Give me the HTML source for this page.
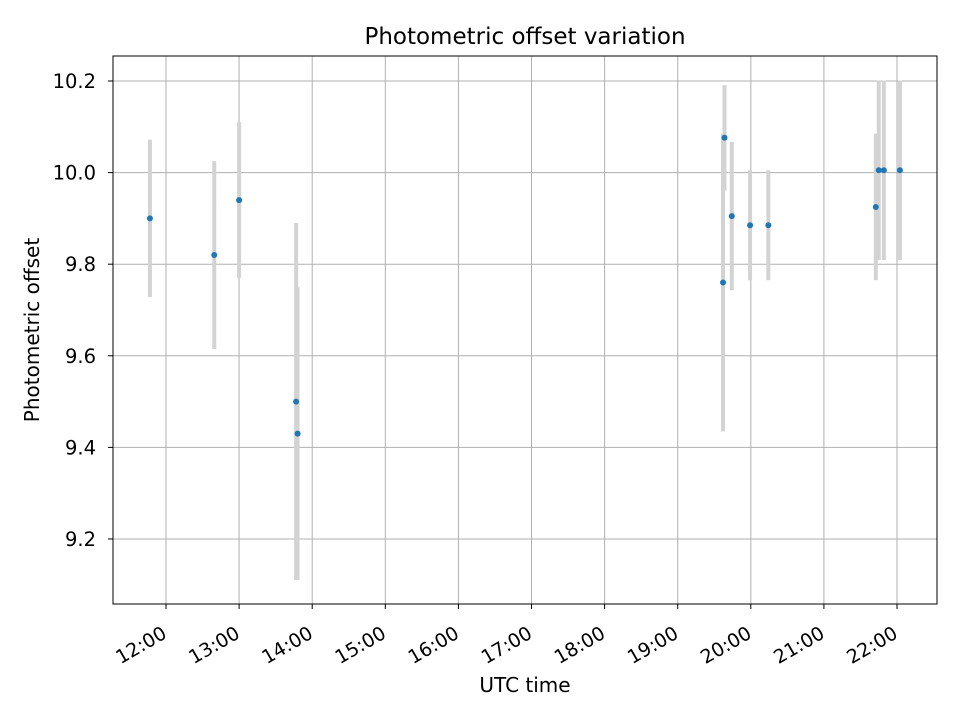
<!DOCTYPE html>
<html><head><meta charset="utf-8"><style>
body{margin:0;background:#fff;}
svg text{font-family:"DejaVu Sans","Liberation Sans",sans-serif;fill:#000;}
</style></head><body>
<svg id="chart" width="960" height="720">
<rect width="960" height="720" fill="#fff"/>
<g id="grid"></g>
<g id="errs"></g>
<g id="pts"></g>
<rect x="113" y="56" width="824" height="548" fill="none" stroke="#000" stroke-width="1"/>
<g id="xt"></g><g id="yt"></g>
<text x="525" y="44" font-size="23" text-anchor="middle">Photometric offset variation</text>
<text x="525" y="692" font-size="20" text-anchor="middle">UTC time</text>
<text transform="translate(39,330) rotate(-90)" font-size="20" text-anchor="middle">Photometric offset</text>
</svg>
<script>
const times=[11.78,12.66,13.0,13.78,13.80,19.62,19.64,19.74,19.99,20.24,21.71,21.75,21.82,22.04];
const values=[9.90,9.82,9.94,9.50,9.43,9.76,10.076,9.905,9.885,9.885,9.925,10.005,10.005,10.005];
const errors=[0.172,0.205,0.17,0.39,0.32,0.325,0.115,0.162,0.12,0.12,0.16,0.196,0.196,0.196];
const xTicks=[12,13,14,15,16,17,18,19,20,21,22];
const xTickLabels=["12:00","13:00","14:00","15:00","16:00","17:00","18:00","19:00","20:00","21:00","22:00"];
const yTicks=[9.2,9.4,9.6,9.8,10.0,10.2];
const yTickLabels=["9.2","9.4","9.6","9.8","10.0","10.2"];
const X0=113,X1=937,Y0=56,Y1=604;
const xMin=11.275,xMax=22.547,yMin=9.058,yMax=10.2546;
const sx=v=>X0+(v-xMin)/(xMax-xMin)*(X1-X0);
const sy=v=>Y1-(v-yMin)/(yMax-yMin)*(Y1-Y0);
const NS="http://www.w3.org/2000/svg";
function mk(tag,attrs,parent){const e=document.createElementNS(NS,tag);for(const k in attrs)e.setAttribute(k,attrs[k]);document.getElementById(parent).appendChild(e);return e;}
xTicks.forEach((t,i)=>{
 const x=sx(t);
 const g=mk('line',{x1:x,x2:x,y1:Y0,y2:Y1,stroke:'#b0b0b0','stroke-width':1},'grid');
 
 
 const tk=mk('line',{x1:x,x2:x,y1:Y1,y2:Y1+5,stroke:'#000'},'xt');
 
 
 const tx=mk('text',{x:0,y:0,'font-size':19,'text-anchor':'end',transform:`translate(${x+2},${Y1+33}) rotate(-30)`},'xt');
 tx.textContent=xTickLabels[i];
 
 
});
yTicks.forEach((t,i)=>{
 const y=sy(t);
 const g=mk('line',{x1:X0,x2:X1,y1:y,y2:y,stroke:'#b0b0b0','stroke-width':1},'grid');
 
 
 const tk=mk('line',{x1:X0-5,x2:X0,y1:y,y2:y,stroke:'#000'},'yt');
 
 
 const tx=mk('text',{x:X0-17,y:y+7,'font-size':19.5,'text-anchor':'end'},'yt');
 tx.textContent=yTickLabels[i];
 
 
});
times.forEach((t,i)=>{
 const x=sx(t);
 const e=mk('line',{x1:x,x2:x,y1:sy(values[i]-errors[i]),y2:sy(values[i]+errors[i]),stroke:'#d3d3d3','stroke-width':4},'errs');
 
 
 const p=mk('circle',{cx:x,cy:sy(values[i]),r:3,fill:'#1f77b4'},'pts');
 
 
});
</script>
</body></html>
